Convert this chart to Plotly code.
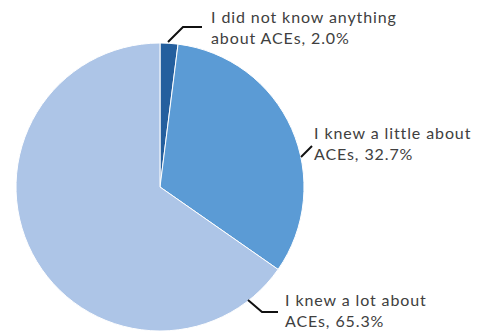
import plotly.graph_objects as go

# Survey responses
labels = [
    "I did not know anything about ACEs",
    "I knew a little about ACEs",
    "I knew a lot about ACEs",
]
label_lines = [
    ("I did not know anything", "about ACEs"),
    ("I knew a little about", "ACEs"),
    ("I knew a lot about", "ACEs"),
]
values = [2.0, 32.7, 65.3]
colors = ["#245f9e", "#5b9bd5", "#adc5e7"]

W, H = 485, 333


def px(x, y):
    """Pixel position -> paper coordinates."""
    return x / W, 1 - y / H


# Pie placement (pixels)
cx, cy, r = 160, 187, 144

fig = go.Figure(
    go.Pie(
        labels=labels,
        values=values,
        sort=False,
        direction="clockwise",
        rotation=0,
        textinfo="none",
        hoverinfo="label+percent",
        marker=dict(colors=colors, line=dict(color="white", width=1)),
        domain=dict(
            x=[(cx - r) / W, (cx + r) / W],
            y=[1 - (cy + r) / H, 1 - (cy - r) / H],
        ),
        showlegend=False,
    )
)

# Label anchors and leader lines (pixels)
text_pos = [(209, 27), (312, 143), (283, 310)]
leaders = [
    [(168, 42), (183, 27), (202, 27)],
    [(301, 157), (312, 146)],
    [(248, 300), (262, 312), (278, 312)],
]

span = "<span style='letter-spacing:0.9px'>{}</span>"
for (l1, l2), v, (tx, ty) in zip(label_lines, values, text_pos):
    ax_, ay_ = px(tx, ty)
    fig.add_annotation(
        x=ax_, y=ay_, xref="paper", yref="paper",
        xanchor="left", yanchor="middle", align="left",
        showarrow=False,
        text=span.format(l1) + "<br>" + span.format(f"{l2}, {v:.1f}%"),
        font=dict(family="Lato", size=16, color="#404040"),
    )

for pts in leaders:
    path = ""
    for i, (x, y) in enumerate(pts):
        X, Y = px(x, y)
        path += ("M" if i == 0 else "L") + f"{X},{Y} "
    fig.add_shape(type="path", path=path.strip(), xref="paper", yref="paper",
                  line=dict(color="#111111", width=2))

fig.update_layout(
    width=W, height=H,
    margin=dict(l=0, r=0, t=0, b=0),
    paper_bgcolor="white",
    plot_bgcolor="white",
)

fig.write_html("out.html")
